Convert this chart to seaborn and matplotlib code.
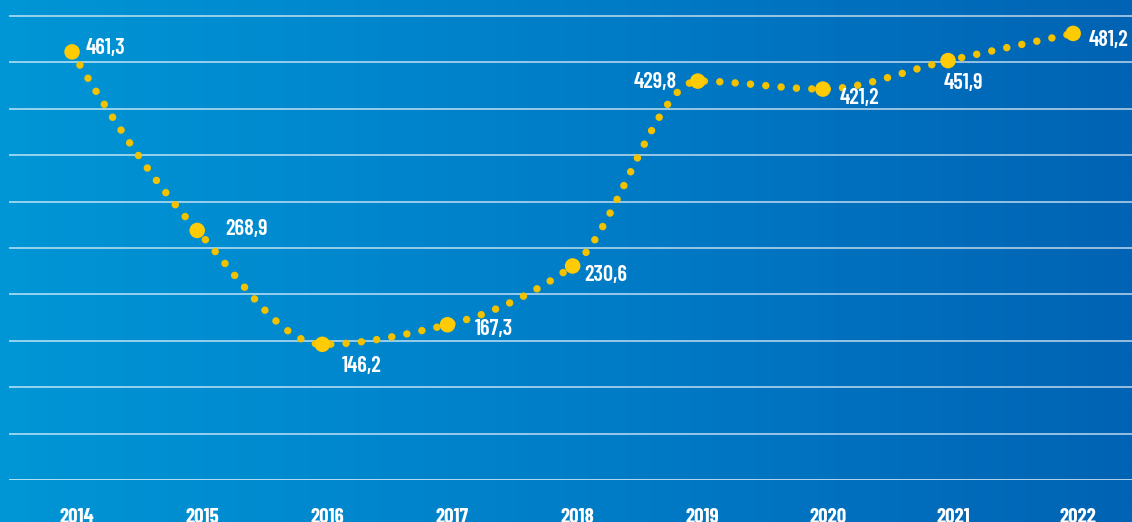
import numpy as np
import pandas as pd
import matplotlib
matplotlib.use("Agg")
import matplotlib.pyplot as plt
from matplotlib.path import Path
from matplotlib.patches import PathPatch
from matplotlib.colors import LinearSegmentedColormap
from matplotlib.transforms import ScaledTranslation
import seaborn as sns

# --- data -------------------------------------------------------------
years = ["2014", "2015", "2016", "2017", "2018", "2019", "2020", "2021", "2022"]
values = [461.3, 268.9, 146.2, 167.3, 230.6, 429.8, 421.2, 451.9, 481.2]
value_labels = ["461,3", "268,9", "146,2", "167,3", "230,6", "429,8", "421,2", "451,9", "481,2"]
grid_levels = list(range(0, 501, 50))

# label placement (offset in pixels from each point, horizontal alignment)
label_offsets = [(14, 4), (28, 1), (19, -22), (27, -4), (12, -9), (-21, -1), (17, -9), (-4, -22), (15, -7)]
label_ha = ["left", "left", "left", "left", "left", "right", "left", "left", "left"]

df = pd.DataFrame({"pos": np.arange(len(years)), "value": values})

sns.set_style("white")
plt.rcParams["font.family"] = ["Barlow Condensed", "DejaVu Sans"]

W, H = 1132, 522
fig = plt.figure(figsize=(W / 100, H / 100), dpi=100)

# horizontal blue gradient background
bg = fig.add_axes([0, 0, 1, 1])
cmap = LinearSegmentedColormap.from_list("bluegrad", ["#0096d6", "#007ec8", "#0063b4"])
grad = np.linspace(0, 1, 512).reshape(1, -1)
bg.imshow(grad, aspect="auto", cmap=cmap, extent=[0, 1, 0, 1])
bg.set_axis_off()

ax = fig.add_axes([9 / W, 42 / H, 1 - 9 / W, 1 - 42 / H])
ax.set_facecolor("none")
ax.set_xlim(-0.504, 8.47)
ax.set_ylim(0, 517.2)

for g in grid_levels:
    ax.axhline(g, color="white", alpha=0.75 if g > 0 else 0.9, lw=1.1, zorder=1)

# smooth monotone curve through the points, drawn as round dots
x = df["pos"].to_numpy(dtype=float)
y = df["value"].to_numpy(dtype=float)
d = np.diff(y)
m = np.zeros_like(y)
for k in range(1, len(y) - 1):
    if d[k - 1] * d[k] > 0:
        m[k] = 2.0 / (1.0 / d[k - 1] + 1.0 / d[k])
m[0] = (3 * d[0] - d[1]) / 2
if np.sign(m[0]) != np.sign(d[0]):
    m[0] = 0
m[-1] = (3 * d[-1] - d[-2]) / 2
if np.sign(m[-1]) != np.sign(d[-1]):
    m[-1] = 0

verts = [(x[0], y[0])]
codes = [Path.MOVETO]
for k in range(len(x) - 1):
    verts += [(x[k] + 1 / 3, y[k] + m[k] / 3),
              (x[k + 1] - 1 / 3, y[k + 1] - m[k + 1] / 3),
              (x[k + 1], y[k + 1])]
    codes += [Path.CURVE4] * 3
curve = PathPatch(Path(verts, codes), facecolor="none", edgecolor="#f2c200",
                  lw=5.4, linestyle=(0, (0.001, 2.05)), capstyle="round", zorder=3)
ax.add_patch(curve)

sns.scatterplot(data=df, x="pos", y="value", ax=ax, s=125, color="#ffcb05",
                edgecolor="none", zorder=4, legend=False)

for xi, yi, lab, off, ha in zip(x, y, value_labels, label_offsets, label_ha):
    ax.annotate(lab, (xi, yi), xytext=off, textcoords="offset pixels",
                ha=ha, va="center", color="white", fontsize=16,
                fontweight=600, zorder=5)

ax.set_xticks(x)
ax.set_xticklabels(years)
ax.set_yticks([])
ax.tick_params(axis="x", length=0, pad=20, labelsize=15, labelcolor="white")
shift = ScaledTranslation(5 / 100, 0, fig.dpi_scale_trans)
for t in ax.get_xticklabels():
    t.set_fontweight(700)
    t.set_transform(t.get_transform() + shift)
ax.set_xlabel("")
ax.set_ylabel("")
for s in ax.spines.values():
    s.set_visible(False)

fig.savefig("out.png", dpi=100)
